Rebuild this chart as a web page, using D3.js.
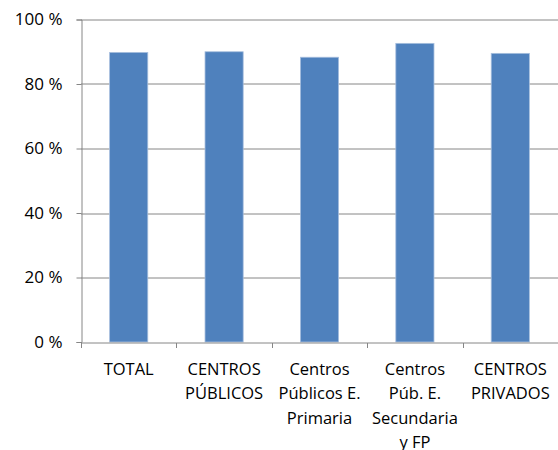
<!DOCTYPE html>
<html>
<head>
<meta charset="utf-8">
<script src="https://cdn.jsdelivr.net/npm/d3@7"></script>
<style>
  body { margin: 0; background: #fff; }
  text { font-family: "Open Sans", "Liberation Sans", sans-serif; fill: #000; }
</style>
</head>
<body>
<div id="chart"></div>
<script>
// categories and values
var categories = ['TOTAL', 'CENTROS PÚBLICOS', 'Centros Públicos E. Primaria', 'Centros Púb. E. Secundaria y FP', 'CENTROS PRIVADOS'];
var labelLines = [['TOTAL'], ['CENTROS', 'PÚBLICOS'], ['Centros', 'Públicos E.', 'Primaria'], ['Centros', 'Púb. E.', 'Secundaria', 'y FP'], ['CENTROS', 'PRIVADOS']];
var values = [89.8, 90.0, 88.3, 92.6, 89.5];
var yTicks = [0, 20, 40, 60, 80, 100];

var svgWidth = 558;
var svgHeight = 450;
var margin = { top: 19.5, right: 0, bottom: 108, left: 81 };
var chartWidth = svgWidth - margin.left - margin.right;
var chartHeight = svgHeight - margin.top - margin.bottom;

var svg = d3.select('#chart').append('svg')
    .attr('width', svgWidth)
    .attr('height', svgHeight);

var g = svg.append('g')
    .attr('transform', `translate(${margin.left},${margin.top})`);

var xScale = d3.scaleBand()
    .domain(categories)
    .range([0, chartWidth])
    .paddingInner(0.6)
    .paddingOuter(0.3);

var yScale = d3.scaleLinear()
    .domain([0, 100])
    .range([chartHeight, 0]);

// gridlines
g.append('g').selectAll('line').data(yTicks.slice(1)).enter()
    .append('line')
    .attr('x1', 0).attr('x2', chartWidth)
    .attr('y1', d => Math.round(yScale(d)) + 0.5)
    .attr('y2', d => Math.round(yScale(d)) + 0.5)
    .attr('stroke', '#868686').attr('stroke-width', 1);

// bars
g.append('g').selectAll('rect').data(values).enter()
    .append('rect')
    .attr('x', (d, i) => xScale(categories[i]))
    .attr('y', d => yScale(d))
    .attr('width', xScale.bandwidth())
    .attr('height', d => chartHeight - yScale(d))
    .attr('fill', '#4F81BD')
    .attr('stroke', '#A7BFDE')
    .attr('stroke-width', 0.8);

// y axis
var leftAxis = d3.axisLeft(yScale).tickValues(yTicks).tickSize(5).tickPadding(14)
    .tickFormat(d => d + ' %');
var yAxisG = g.append('g').attr('transform', 'translate(0.5,0)').call(leftAxis);
yAxisG.selectAll('line, path').attr('stroke', '#868686');
yAxisG.selectAll('text').attr('font-size', '17px').style('font-family', '"Open Sans", sans-serif');

// x axis
var tickPos = d3.range(categories.length + 1).map(i => i * chartWidth / categories.length);
var xAxisG = g.append('g').attr('transform', `translate(0,${Math.round(chartHeight) + 0.5})`);
xAxisG.append('line')
    .attr('x1', 0).attr('x2', chartWidth)
    .attr('stroke', '#868686');
xAxisG.selectAll('.tick').data(tickPos).enter()
    .append('line')
    .attr('x1', d => Math.round(d) + 0.5).attr('x2', d => Math.round(d) + 0.5)
    .attr('y1', 0).attr('y2', 5)
    .attr('stroke', '#868686');

var labels = xAxisG.selectAll('.xlab').data(categories).enter()
    .append('text')
    .attr('class', 'xlab')
    .attr('text-anchor', 'middle')
    .attr('font-size', '16.5px')
    .attr('transform', d => `translate(${xScale(d) + xScale.bandwidth() / 2},32)`);

labels.each(function(d, i) {
    var t = d3.select(this);
    labelLines[i].forEach(function(line, j) {
        t.append('tspan').attr('x', 0).attr('y', j * 24.4).text(line);
    });
});
</script>
</body>
</html>
